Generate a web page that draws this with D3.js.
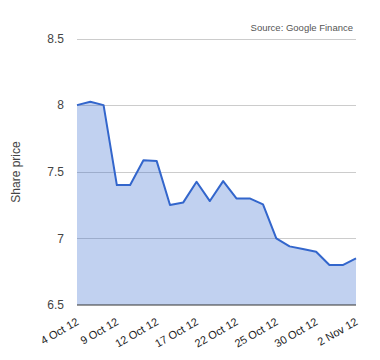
<!DOCTYPE html>
<html><head><meta charset="utf-8">
<script src="https://cdn.jsdelivr.net/npm/d3@7"></script>
<style>body{margin:0;background:#fff}svg{display:block}text{font-family:Arial,"Liberation Sans",sans-serif}</style>
</head><body>
<svg id="c" width="380" height="360"></svg>
<script>
const dates = ["4 Oct 12","5 Oct 12","8 Oct 12","9 Oct 12","10 Oct 12","11 Oct 12","12 Oct 12","15 Oct 12","16 Oct 12","17 Oct 12","18 Oct 12","19 Oct 12","22 Oct 12","23 Oct 12","24 Oct 12","25 Oct 12","26 Oct 12","29 Oct 12","30 Oct 12","31 Oct 12","1 Nov 12","2 Nov 12"];
const prices = [8.0,8.025,8.0,7.4,7.4,7.586,7.58,7.25,7.27,7.425,7.28,7.43,7.30,7.30,7.255,7.0,6.94,6.92,6.90,6.80,6.80,6.85];
const xTickLabels = ["4 Oct 12","9 Oct 12","12 Oct 12","17 Oct 12","22 Oct 12","25 Oct 12","30 Oct 12","2 Nov 12"];
const yTicks = [6.5,7,7.5,8,8.5];
const yLabel = "Share price";
const source = "Source: Google Finance";

const svg = d3.select("#c");
const L=77, R=356, T=38.5, B=305;
const x = d3.scalePoint().domain(dates).range([L,R]);
const y = d3.scaleLinear().domain([6.5,8.5]).range([B,T]);

// gridlines
svg.append("g").selectAll("line").data(yTicks.filter(d=>d>6.5)).join("line")
  .attr("x1",L).attr("x2",R).attr("y1",d=>Math.round(y(d))+0.5).attr("y2",d=>Math.round(y(d))+0.5)
  .attr("stroke","#cccccc").attr("stroke-width",1);

// area
const data = dates.map((d,i)=>({d,v:prices[i]}));
svg.append("path").datum(data)
  .attr("d",d3.area().x(p=>x(p.d)).y0(y(6.5)).y1(p=>y(p.v)))
  .attr("fill","#3366cc").attr("fill-opacity",0.3);
svg.append("path").datum(data)
  .attr("d",d3.line().x(p=>x(p.d)).y(p=>y(p.v)))
  .attr("fill","none").attr("stroke","#3366cc").attr("stroke-width",2).attr("stroke-linejoin","round");

// baseline
svg.append("line").attr("x1",L).attr("x2",R).attr("y1",y(6.5)).attr("y2",y(6.5)).attr("stroke","#333").attr("stroke-width",1);

// y axis labels
const ya = svg.append("g").attr("transform",`translate(${L-13},0)`)
  .call(d3.axisLeft(y).tickValues(yTicks).tickSize(0).tickPadding(0).tickFormat(d3.format("")));
ya.select(".domain").remove();
ya.selectAll("text").attr("font-size",12).attr("fill","#444").attr("font-family","Arial, 'Liberation Sans', sans-serif");

// x axis labels
const xa = svg.append("g").attr("transform",`translate(0,${B})`)
  .call(d3.axisBottom(x).tickValues(xTickLabels).tickSize(0).tickPadding(0));
xa.select(".domain").remove();
xa.selectAll("text").attr("font-size",11).attr("fill","#222")
  .attr("font-family","Arial, 'Liberation Sans', sans-serif")
  .attr("text-anchor","end").attr("dy",0).attr("y",0)
  .attr("transform","translate(2,19) rotate(-30)");

// y title
svg.append("text").attr("transform","translate(20,172) rotate(-90)").attr("text-anchor","middle")
  .attr("font-size",12).attr("fill","#444").text(yLabel);

// source
svg.append("text").attr("x",353).attr("y",31).attr("text-anchor","end")
  .attr("font-size",9.5).attr("fill","#555").text(source);
</script>
</body></html>
